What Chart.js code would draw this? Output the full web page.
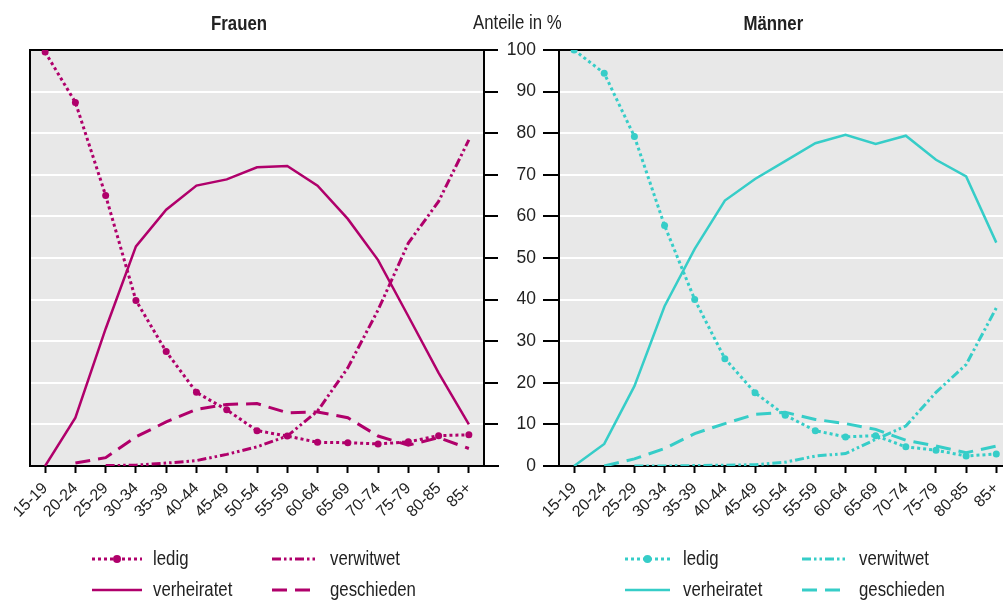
<!DOCTYPE html>
<html lang="de">
<head>
<meta charset="utf-8">
<title>Familienstand nach Altersgruppen</title>
<script src="https://cdn.jsdelivr.net/npm/chart.js@4.4.0/dist/chart.umd.min.js"></script>
<style>
  html, body { margin: 0; padding: 0; background: #fff; overflow: hidden; }
  body { width: 1003px; height: 602px; position: relative; }
  .panel { position: absolute; top: 0; height: 602px; }
  #frauen-wrap { left: 0; width: 600px; }
  #maenner-wrap { left: 500px; width: 516px; }
</style>
</head>
<body>
<div class="panel" id="frauen-wrap"><canvas id="chart-frauen"></canvas></div>
<div class="panel" id="maenner-wrap"><canvas id="chart-maenner"></canvas></div>
<script>
let ages = ['15-19', '20-24', '25-29', '30-34', '35-39', '40-44', '45-49', '50-54',
  '55-59', '60-64', '65-69', '70-74', '75-79', '80-85', '85+'];
let statusNames = ['ledig', 'verheiratet', 'verwitwet', 'geschieden'];

// Anteile in %, Frauen
let frauenLedig = [99.5, 87.4, 65.0, 39.8, 27.5, 17.7, 13.5, 8.5, 7.2, 5.7, 5.6, 5.3, 5.8, 7.3, 7.5];
let frauenVerheiratet = [0, 11.6, 33.0, 52.8, 61.6, 67.4, 68.9, 71.8, 72.1, 67.4, 59.4, 49.5, 36.0, 22.4, 10.0];
let frauenVerwitwet = [null, null, 0.1, 0.2, 0.7, 1.3, 2.8, 4.6, 7.2, 13.2, 23.6, 37.5, 53.6, 63.6, 78.4];
let frauenGeschieden = [null, 0.7, 2.0, 7.0, 10.6, 13.6, 14.8, 15.0, 12.8, 13.0, 11.6, 7.2, 5.0, 6.8, 4.2];

// Anteile in %, Männer
let maennerLedig = [100, 94.4, 79.2, 57.8, 40.0, 25.8, 17.6, 12.2, 8.5, 7.0, 7.3, 4.6, 3.8, 2.4, 2.9];
let maennerVerheiratet = [0, 5.3, 19.2, 38.4, 52.2, 63.8, 69.0, 73.3, 77.6, 79.6, 77.4, 79.4, 73.6, 69.6, 53.7];
let maennerVerwitwet = [null, null, 0, 0, 0.1, 0.2, 0.3, 0.9, 2.4, 3.0, 6.4, 9.6, 17.7, 24.4, 38.0];
let maennerGeschieden = [null, 0, 1.7, 4.2, 7.8, 10.2, 12.4, 12.9, 11.2, 10.2, 8.8, 6.2, 4.8, 3.2, 4.8];

let yTicks = [0, 10, 20, 30, 40, 50, 60, 70, 80, 90, 100];

let magenta = '#B0006B';
let teal = '#36CDC8';
let panelGrey = '#E8E8E8';
let textColor = '#222';
let fontFamily = "'Liberation Sans', Arial, sans-serif";
// the original uses a condensed face; plugin text is squeezed horizontally to match
let squeeze = 0.8;

Chart.defaults.font.family = fontFamily;
Chart.defaults.color = textColor;
Chart.defaults.animation = false;
Chart.defaults.maintainAspectRatio = false;
Chart.defaults.plugins.legend.display = false;
Chart.defaults.plugins.tooltip.enabled = false;

let dashes = {
  ledig: [3, 3],
  verheiratet: [],
  verwitwet: [9, 3, 2.5, 3, 2.5, 3],
  geschieden: [15, 8]
};

function makeDatasets(series, color) {
  return statusNames.map((name, i) => {
    return {
      label: name,
      data: series[i],
      borderColor: color,
      backgroundColor: color,
      borderWidth: name === 'verheiratet' ? 2.5 : 3,
      borderDash: dashes[name],
      borderCapStyle: 'butt',
      pointRadius: name === 'ledig' ? 3.5 : 0,
      pointBorderWidth: 0,
      pointBackgroundColor: color,
      tension: 0
    };
  });
}

function squeezedText(ctx, text, x, y) {
  ctx.save();
  ctx.translate(x, y);
  ctx.scale(squeeze, 1);
  ctx.fillText(text, 0, 0);
  ctx.restore();
}

// grey plot background, black frame, titles and the 2x2 legend under each panel
const panelPlugin = {
  id: 'panel',
  beforeDraw(chart) {
    let a = chart.chartArea;
    let ctx = chart.ctx;
    ctx.save();
    ctx.fillStyle = panelGrey;
    ctx.fillRect(a.left, a.top, a.right - a.left, a.bottom - a.top);
    ctx.restore();
  },
  beforeDatasetsDraw(chart, args, opts) {
    let a = chart.chartArea;
    let ctx = chart.ctx;
    ctx.save();
    ctx.strokeStyle = '#000';
    ctx.lineWidth = 2;
    ctx.beginPath();
    ctx.moveTo(a.left - 1, a.top);
    ctx.lineTo(a.right + 1, a.top);
    ctx.moveTo(a.left - 1, a.bottom);
    ctx.lineTo(a.right + (opts.bottomExtra || 0), a.bottom);
    ctx.moveTo(a.left, a.top);
    ctx.lineTo(a.left, a.bottom);
    if (opts.rightBorder) {
      ctx.moveTo(a.right, a.top);
      ctx.lineTo(a.right, a.bottom);
    }
    ctx.stroke();
    ctx.restore();
  },
  afterDraw(chart, args, opts) {
    let ctx = chart.ctx;
    ctx.save();
    ctx.fillStyle = textColor;
    ctx.textBaseline = 'alphabetic';
    ctx.textAlign = 'left';
    (opts.titles || []).forEach(t => {
      ctx.font = (t.bold ? 'bold ' : '') + '21px ' + fontFamily;
      squeezedText(ctx, t.text, t.x, t.y);
    });

    let lg = opts.legend;
    chart.data.datasets.forEach((ds, i) => {
      let col = lg.cols[i >> 1];
      let y = lg.rows[i & 1];
      ctx.strokeStyle = ds.borderColor;
      ctx.lineWidth = ds.borderWidth;
      ctx.lineCap = 'butt';
      ctx.setLineDash(ds.borderDash);
      ctx.beginPath();
      ctx.moveTo(col.x0, y);
      ctx.lineTo(col.x1, y);
      ctx.stroke();
      ctx.setLineDash([]);
      if (ds.pointRadius > 0) {
        ctx.fillStyle = ds.borderColor;
        ctx.beginPath();
        ctx.arc((col.x0 + col.x1) / 2, y, ds.pointRadius + 0.5, 0, Math.PI * 2);
        ctx.fill();
      }
      ctx.fillStyle = textColor;
      ctx.font = '21px ' + fontFamily;
      ctx.textBaseline = 'middle';
      squeezedText(ctx, ds.label, col.tx, y);
    });
    ctx.restore();
  }
};

function xScale() {
  return {
    offset: true,
    grid: { drawOnChartArea: false, drawTicks: true, tickLength: 7, tickColor: '#000', tickWidth: 2 },
    border: { display: false },
    ticks: { autoSkip: false, maxRotation: 45, minRotation: 45, padding: 6, font: { size: 16 }, color: textColor },
    afterFit: s => { s.height = 60; }
  };
}

new Chart('chart-frauen', {
  type: 'line',
  data: {
    labels: ages,
    datasets: makeDatasets([frauenLedig, frauenVerheiratet, frauenVerwitwet, frauenGeschieden], magenta)
  },
  options: {
    layout: { padding: { left: 30, top: 50, right: 102, bottom: 76 } },
    scales: {
      x: xScale(),
      y: {
        position: 'right',
        min: 0,
        max: 100,
        afterBuildTicks: s => { s.ticks = yTicks.map(v => ({ value: v })); },
        grid: { color: '#fff', lineWidth: 2, tickLength: 14, tickColor: '#000', tickWidth: 2 },
        border: { display: false },
        ticks: { display: false },
        afterFit: s => { s.width = 14; }
      }
    },
    plugins: {
      panel: {
        rightBorder: true,
        bottomExtra: 15,
        titles: [
          { text: 'Frauen', x: 211, y: 30, bold: true },
          { text: 'Anteile in %', x: 473, y: 29, bold: false }
        ],
        legend: {
          rows: [559, 590],
          cols: [{ x0: 92, x1: 142, tx: 153 }, { x0: 272, x1: 318, tx: 330 }]
        }
      }
    }
  },
  plugins: [panelPlugin]
});

new Chart('chart-maenner', {
  type: 'line',
  data: {
    labels: ages,
    datasets: makeDatasets([maennerLedig, maennerVerheiratet, maennerVerwitwet, maennerGeschieden], teal)
  },
  options: {
    layout: { padding: { left: 0, top: 50, right: 0, bottom: 76 } },
    scales: {
      x: xScale(),
      y: {
        position: 'left',
        min: 0,
        max: 100,
        afterBuildTicks: s => { s.ticks = yTicks.map(v => ({ value: v })); },
        grid: { color: '#fff', lineWidth: 2, tickLength: 16, tickColor: '#000', tickWidth: 2 },
        border: { display: false },
        ticks: { padding: 7, font: { size: 17.5 }, color: textColor },
        afterFit: s => { s.width = 59; }
      }
    },
    plugins: {
      panel: {
        rightBorder: false,
        bottomExtra: 0,
        titles: [
          { text: 'Männer', x: 243.5, y: 30, bold: true }
        ],
        legend: {
          rows: [559, 590],
          cols: [{ x0: 125, x1: 170, tx: 183 }, { x0: 302, x1: 347, tx: 359 }]
        }
      }
    }
  },
  plugins: [panelPlugin]
});
</script>
</body>
</html>
